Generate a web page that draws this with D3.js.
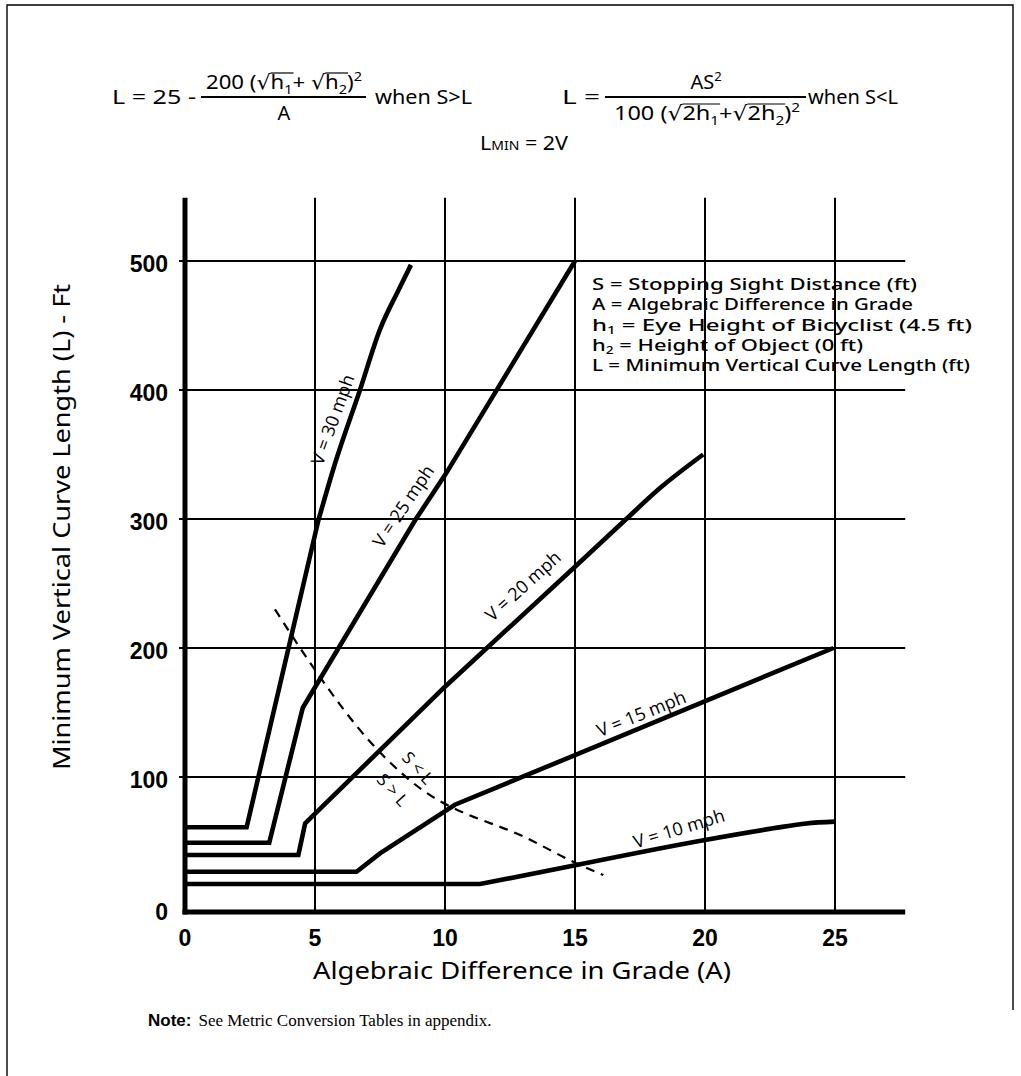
<!DOCTYPE html>
<html>
<head>
<meta charset="utf-8">
<script src="https://cdn.jsdelivr.net/npm/d3@7"></script>
<style>
  body { margin: 0; background: #fff; }
  svg { display: block; }
</style>
</head>
<body>
<svg id="chart" width="1021" height="1076"></svg>
<script>
// ---- data: [A (grade difference), L (ft)] ----
const speeds = ["V = 10 mph", "V = 15 mph", "V = 20 mph", "V = 25 mph", "V = 30 mph"];
const curve10 = [[0, 17], [11.35, 17], [15.06, 31.8], [20, 51.2], [22.63, 60.2], [23.9, 64], [25, 65.4]];
const curve15 = [[0, 26.5], [6.6, 26.5], [7.5, 40.8], [10.38, 78.5], [15, 117], [24.94, 200]];
const curve20 = [[0, 39.5], [4.36, 39.5], [4.62, 64], [10, 170], [15, 263], [16.92, 299], [18.27, 324], [19.93, 350]];
const curve25 = [[0, 49], [3.24, 49], [4.53, 153.7], [8.85, 299], [10.03, 335], [15, 500]];
const curve30 = [[0, 61], [2.37, 61], [5.13, 299], [5.77, 343], [6.73, 400], [7.5, 447], [8.2, 477], [8.69, 497]];
const dividerSL = [[3.46, 230], [5, 183], [7.18, 126], [9.74, 82], [10.32, 76], [13.0, 54], [15.06, 33], [16.09, 24]];
const xTicks = [0, 5, 10, 15, 20, 25];
const yTicks = [0, 100, 200, 300, 400, 500];
const legendLines = [
  [["S = Stopping Sight Distance (ft)"]],
  [["A = Algebraic Difference in Grade"]],
  [["h"], ["1", "sub"], [" = Eye Height of Bicyclist (4.5 ft)"]],
  [["h"], ["2", "sub"], [" = Height of Object (0 ft)"]],
  [["L = Minimum Vertical Curve Length (ft)"]]
];

const svg = d3.select("#chart");
const hand = "'Noto Sans', 'DejaVu Sans', sans-serif";
const bold = "'Liberation Sans', Arial, sans-serif";

// page frame
svg.append("path")
  .attr("d", "M7,1076 V5 H1013 V1010")
  .attr("fill", "none").attr("stroke", "#000").attr("stroke-width", 1.4);

// scales
const x = d3.scaleLinear().domain([0, 25]).range([185, 835]);
const y = d3.scaleLinear().domain([0, 500]).range([906, 261]);
const xEnd = 27.7, yTop = 549;
const baseY = y(0) + 6;

// grid
const grid = svg.append("g").attr("stroke", "#000").attr("stroke-width", 2);
grid.selectAll("line.v").data(xTicks.filter(d => d > 0)).join("line")
  .attr("class", "v")
  .attr("x1", d => x(d)).attr("x2", d => x(d))
  .attr("y1", y(yTop)).attr("y2", baseY);
grid.selectAll("line.h").data(yTicks.filter(d => d > 0)).join("line")
  .attr("class", "h")
  .attr("x1", x(0) - 6).attr("x2", x(xEnd))
  .attr("y1", d => y(d)).attr("y2", d => y(d));

// axes
svg.append("line").attr("x1", x(0)).attr("x2", x(0)).attr("y1", y(yTop)).attr("y2", baseY + 2.5)
  .attr("stroke", "#000").attr("stroke-width", 5);
svg.append("line").attr("x1", x(0) - 2.5).attr("x2", x(xEnd)).attr("y1", baseY).attr("y2", baseY)
  .attr("stroke", "#000").attr("stroke-width", 5);

svg.append("g").selectAll("text").data(yTicks).join("text")
  .attr("x", x(0) - 17)
  .attr("y", d => d === 0 ? baseY : y(d) + 3)
  .attr("dy", "0.36em")
  .attr("text-anchor", "end")
  .attr("font-family", bold).attr("font-weight", "bold").attr("font-size", 23)
  .text(d => d);

svg.append("g").selectAll("text").data(xTicks).join("text")
  .attr("x", d => x(d))
  .attr("y", 946)
  .attr("text-anchor", "middle")
  .attr("font-family", bold).attr("font-weight", "bold").attr("font-size", 23)
  .text(d => d);

// axis titles
svg.append("text")
  .attr("x", 522).attr("y", 979)
  .attr("text-anchor", "middle")
  .attr("font-family", hand).attr("font-size", 23)
  .attr("textLength", 418).attr("lengthAdjust", "spacingAndGlyphs")
  .text("Algebraic Difference in Grade (A)");

svg.append("text")
  .attr("transform", "translate(70,527) rotate(-90)")
  .attr("text-anchor", "middle")
  .attr("font-family", hand).attr("font-size", 23)
  .attr("textLength", 486).attr("lengthAdjust", "spacingAndGlyphs")
  .text("Minimum Vertical Curve Length (L) - Ft");

// curves: straight pieces up to a point, a smooth bend after it
const curves = [curve10, curve15, curve20, curve25, curve30];
const bendFrom = [2, 99, 4, 99, 2];
const straight = d3.line().x(d => x(d[0])).y(d => y(d[1]));
const smooth = d3.line().x(d => x(d[0])).y(d => y(d[1])).curve(d3.curveMonotoneX);
function curvePath(pts, i) {
  const k = bendFrom[i];
  if (k >= pts.length - 1) return straight(pts);
  return straight(pts.slice(0, k + 1)) + smooth(pts.slice(k)).replace(/^M/, "L");
}
svg.append("g").selectAll("path").data(curves).join("path")
  .attr("d", (d, i) => curvePath(d, i))
  .attr("fill", "none").attr("stroke", "#000").attr("stroke-width", 4.6)
  .attr("stroke-linejoin", "miter");

svg.append("path")
  .attr("d", smooth(dividerSL))
  .attr("fill", "none").attr("stroke", "#000").attr("stroke-width", 2.2)
  .attr("stroke-dasharray", "9,7");

// curve labels (anchor in chart units, angle in degrees)
const labelSpots = [
  { at: [19.0, 60], angle: -17 },
  { at: [17.55, 149], angle: -22 },
  { at: [13.0, 248], angle: -42 },
  { at: [8.4, 310], angle: -56 },
  { at: [5.68, 377], angle: -70 }
];
svg.append("g").selectAll("text").data(speeds).join("text")
  .attr("transform", (d, i) => `translate(${x(labelSpots[i].at[0])},${y(labelSpots[i].at[1])}) rotate(${labelSpots[i].angle})`)
  .attr("text-anchor", "middle").attr("dy", "0.35em")
  .attr("font-family", "'Open Sans', 'Noto Sans', sans-serif").attr("font-size", 18)
  .text(d => d);

const slLabels = [["S < L", [8.95, 107]], ["S > L", [7.98, 90]]];
svg.append("g").selectAll("text").data(slLabels).join("text")
  .attr("transform", d => `translate(${x(d[1][0])},${y(d[1][1])}) rotate(48)`)
  .attr("text-anchor", "middle").attr("dy", "0.35em")
  .attr("font-family", "'Open Sans', 'Noto Sans', sans-serif").attr("font-size", 17)
  .text(d => d[0]);

// legend
const legend = svg.append("g").attr("font-family", hand).attr("font-size", 16).attr("font-weight", 500);
const legendWidths = [325, 321, 380, 271, 378];
legendLines.forEach((parts, i) => {
  const t = legend.append("text").attr("x", 592).attr("y", 290 + i * 20.3)
    .attr("textLength", legendWidths[i]).attr("lengthAdjust", "spacingAndGlyphs");
  parts.forEach((p, j) => {
    const s = t.append("tspan").text(p[0]);
    if (p[1] === "sub") s.attr("font-size", 10).attr("dy", 3);
    else if (j > 0) s.attr("dy", -3);
  });
});

// formulas
const fg = svg.append("g").attr("font-family", hand).attr("font-size", 20);
function rich(px, py, anchor, parts, width) {
  const t = fg.append("text").attr("x", px).attr("y", py).attr("text-anchor", anchor);
  if (width) t.attr("textLength", width).attr("lengthAdjust", "spacingAndGlyphs");
  let shift = 0;
  const spans = [];
  parts.forEach(p => {
    const [txt, kind, ov] = p;
    const s = t.append("tspan").text(txt);
    let target = 0;
    if (kind === "sub") { s.attr("font-size", 13); target = 5; }
    if (kind === "sup") { s.attr("font-size", 13); target = -8; }
    if (kind === "sc") { s.attr("font-size", 13); }
    if (target !== shift) { s.attr("dy", target - shift); shift = target; }
    spans.push({ node: s.node(), ov });
  });
  // overlines for the radicals
  const groups = d3.group(spans.filter(d => d.ov), d => d.ov);
  groups.forEach(g => {
    const a = g[0].node.getStartPositionOfChar(0).x;
    const last = g[g.length - 1].node;
    const b = last.getEndPositionOfChar(last.getNumberOfChars() - 1).x;
    fg.append("line").attr("x1", a).attr("x2", b + 1)
      .attr("y1", py - 16).attr("y2", py - 16)
      .attr("stroke", "#000").attr("stroke-width", 1.2);
  });
  return t;
}
const barY = 97;
rich(112, barY + 7, "start", [["L = 25 -"]], 84);
rich(284, barY - 8, "middle", [["200 (√"], ["h", null, 1], ["1", "sub", 1], ["+ √"], ["h", null, 2], ["2", "sub", 2], [")"], ["2", "sup"]], 156);
fg.append("line").attr("x1", 201).attr("x2", 366).attr("y1", barY).attr("y2", barY).attr("stroke", "#000").attr("stroke-width", 1.8);
rich(284, barY + 23, "middle", [["A"]]);
rich(375, barY + 7, "start", [["when S>L"]], 97);

rich(562, barY + 7, "start", [["L ="]], 38);
rich(706, barY - 8, "middle", [["AS"], ["2", "sup"]]);
fg.append("line").attr("x1", 605).attr("x2", 806).attr("y1", barY).attr("y2", barY).attr("stroke", "#000").attr("stroke-width", 1.8);
rich(707, barY + 23, "middle", [["100 (√"], ["2h", null, 1], ["1", "sub", 1], ["+√"], ["2h", null, 2], ["2", "sub", 2], [")"], ["2", "sup"]], 186);
rich(808, barY + 7, "start", [["when S<L"]], 90);

rich(480, 150, "start", [["L"], ["MIN", "sc"], [" = 2V"]], 88);

// note
const note = svg.append("text").attr("x", 148).attr("y", 1026).attr("font-size", 17);
note.append("tspan").attr("font-family", bold).attr("font-weight", "bold").text("Note:");
note.append("tspan").attr("font-family", "'Liberation Serif', 'Times New Roman', serif").attr("dx", 7)
  .text("See Metric Conversion Tables in appendix.");
</script>
</body>
</html>
